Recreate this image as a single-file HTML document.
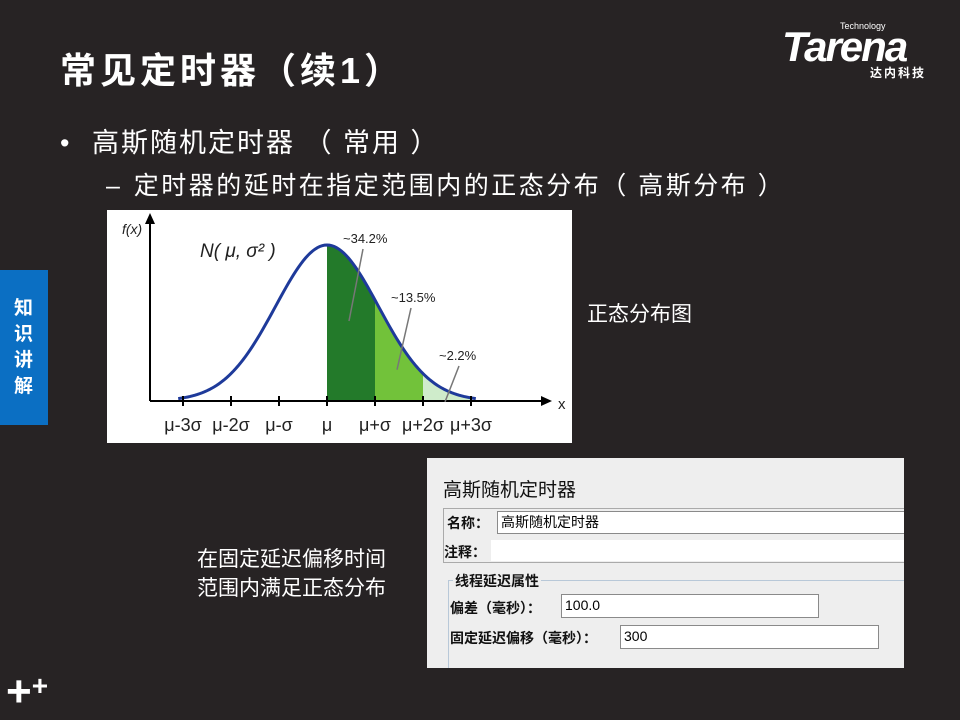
<!DOCTYPE html>
<html><head><meta charset="utf-8">
<style>
body{margin:0;width:960px;height:720px;background:#272324;position:relative;overflow:hidden;font-family:"Liberation Sans","Noto Sans CJK SC",sans-serif;color:#fff}
.a{position:absolute;white-space:nowrap}
.inp{position:absolute;background:#fff;border:1px solid #8a8a8a;box-sizing:border-box;font-size:14px;color:#000;padding-left:3px;line-height:20px}
.lbl{position:absolute;font-size:14px;font-weight:bold;color:#111;white-space:nowrap}
</style></head><body>
<div class="a" style="left:60px;top:42px;font-size:36px;font-weight:bold;letter-spacing:4px">常见定时器（续1）</div>
<div class="a" style="left:782px;top:20px;width:165px;height:62px">
 <div class="a" style="left:58px;top:1px;font-size:9px;color:#fff">Technology</div>
 <div class="a" style="left:0;top:6px;font-size:42px;font-weight:bold;font-style:italic;letter-spacing:-2px;line-height:42px">Tarena</div>
 <div class="a" style="left:88px;top:44px;font-size:12px;font-weight:bold;letter-spacing:2px">达内科技</div>
</div>
<div class="a" style="left:60px;top:121px;font-size:27px">•&nbsp;&nbsp;&nbsp;<span style="letter-spacing:2px">高斯随机定时器 （ 常用 ）</span></div>
<div class="a" style="left:106px;top:166px;font-size:25px">–&nbsp;&nbsp;<span style="letter-spacing:2.5px">定时器的延时在指定范围内的正态分布（ 高斯分布 ）</span></div>
<div class="a" style="left:0;top:270px;width:48px;height:155px;background:#0b6fc3"></div>
<div class="a" style="left:14px;top:296px;width:20px;font-size:19px;font-weight:bold;line-height:26px;white-space:normal">知识讲解</div>
<div class="a" style="left:6px;top:670px;font-size:44px;font-weight:bold;line-height:44px">+<span style="font-size:28px;vertical-align:top;position:relative;top:-6px">+</span></div>

<svg class="a" style="left:107px;top:210px" width="465" height="233" viewBox="107 210 465 233">
<rect x="107" y="210" width="465" height="233" fill="#fff"/>
<g id="chart"></g>
</svg>

<div class="a" style="left:587px;top:298px;font-size:21px">正态分布图</div>
<div class="a" style="left:197px;top:545px;font-size:21px;line-height:29px">在固定延迟偏移时间<br>范围内满足正态分布</div>

<div class="a" style="left:427px;top:458px;width:477px;height:210px;background:#eeeeee;overflow:hidden">
 <div class="a" style="left:16px;top:17px;font-size:19px;color:#111">高斯随机定时器</div>
 <div class="a" style="left:16px;top:50px;width:470px;height:53px;border:1px solid #aaa"></div>
 <div class="lbl" style="left:20px;top:55px">名称：</div>
 <div class="inp" style="left:70px;top:53px;width:420px;height:23px">高斯随机定时器</div>
 <div class="lbl" style="left:17px;top:84px">注释：</div>
 <div class="inp" style="left:64px;top:82px;width:420px;height:21px;border:none"></div>
 <div class="a" style="left:21px;top:122px;width:470px;height:88px;border:1px solid #b8c8d8"></div>
 <div class="lbl" style="left:26px;top:113px;background:#eeeeee;padding:0 2px">线程延迟属性</div>
 <div class="lbl" style="left:23px;top:140px">偏差（毫秒）：</div>
 <div class="inp" style="left:134px;top:136px;width:258px;height:24px">100.0</div>
 <div class="lbl" style="left:23px;top:170px">固定延迟偏移（毫秒）：</div>
 <div class="inp" style="left:193px;top:167px;width:259px;height:24px">300</div>
</div>

<script>
const tickLabels=["μ-3σ","μ-2σ","μ-σ","μ","μ+σ","μ+2σ","μ+3σ"];
const tickSigmas=[-3,-2,-1,0,1,2,3];
const bandLabels=["~34.2%","~13.5%","~2.2%"];
const bandColors=["#237a2a","#72c23a","#cfeccb"];
const NS="http://www.w3.org/2000/svg";
const g=document.getElementById('chart');
const X0=327,SIG=48,Y0=401,H=156;
const xs=s=>X0+s*SIG;
const ys=s=>Y0-H*Math.exp(-s*s/2.3);
function el(t,a){const e=document.createElementNS(NS,t);for(const k in a)e.setAttribute(k,a[k]);g.appendChild(e);return e;}
for(let b=0;b<3;b++){let d=`M${xs(b)},${Y0}`;for(let s=b;s<=b+1+1e-9;s+=0.05)d+=` L${xs(s)},${ys(s)}`;d+=` L${xs(b+1)},${Y0}Z`;
 const p=el('path',{d,fill:bandColors[b]});
 
 }
let d='';for(let s=-3.1;s<=3.1;s+=0.05)d+=(d?' L':'M')+xs(s)+','+ys(s);
const c=el('path',{d,fill:'none',stroke:'#1e3a9a','stroke-width':3});


el('line',{x1:150,y1:Y0,x2:545,y2:Y0,stroke:'#000','stroke-width':2});
el('path',{d:`M552,${Y0} L541,${Y0-5} L541,${Y0+5}Z`,fill:'#000'});
el('line',{x1:150,y1:Y0,x2:150,y2:220,stroke:'#000','stroke-width':2});
el('path',{d:'M150,213 L145,224 L155,224Z',fill:'#000'});
let t=el('text',{x:558,y:409,'font-size':15,fill:'#222'});t.textContent='x';
t=el('text',{x:122,y:234,'font-size':14,'font-style':'italic',fill:'#222'});t.textContent='f(x)';
t=el('text',{x:200,y:257,'font-size':19,'font-style':'italic',fill:'#222'});t.textContent='N( μ, σ² )';
tickSigmas.forEach((s,i)=>{
 el('line',{x1:xs(s),y1:Y0-5,x2:xs(s),y2:Y0+5,stroke:'#000','stroke-width':2});
 const tx=el('text',{x:xs(s),y:431,'font-size':18,'text-anchor':'middle',fill:'#222'});
 tx.textContent=tickLabels[i];
 
 
});
const lp=[[0.5,-0.35,243],[1.5,-0.5,302],[2.5,-0.45,360]];
bandLabels.forEach((l,i)=>{
 const s=lp[i][0];
 const tx=el('text',{x:xs(s)-8,y:lp[i][2],'font-size':13,fill:'#222'});
 tx.textContent=l;
 
 
 el('line',{x1:xs(s)+12,y1:lp[i][2]+6,x2:xs(s)-2,y2:(ys(s)+Y0)/2-10+i*8,stroke:'#777','stroke-width':1.5});
});
</script>
</body></html>
